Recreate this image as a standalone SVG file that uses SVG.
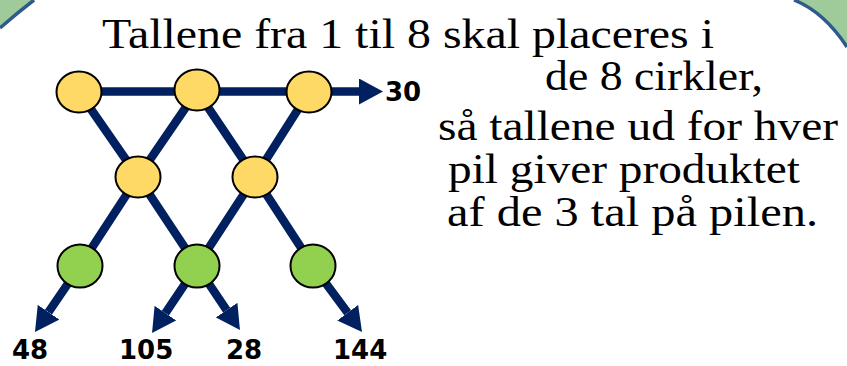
<svg xmlns="http://www.w3.org/2000/svg" width="847" height="366" viewBox="0 0 847 366">
<style>
.bg{fill:#ffffff}
.corner{fill:#9fcb9a}
.cornerEdge{fill:none;stroke:#2e5b8c;stroke-width:3.5}
.wire{fill:none;stroke:#002060;stroke-width:8.5;stroke-linejoin:miter}
.yel{fill:#ffd966;stroke:#000000;stroke-width:2}
.grn{fill:#92d050;stroke:#000000;stroke-width:2}
.num{font-family:"DejaVu Sans","Verdana",sans-serif;font-weight:bold;font-size:26px;fill:#000000}
.body{font-family:"Liberation Serif","Times New Roman",serif;font-size:42px;fill:#000000}
</style>
<defs>
<marker id="ah" markerUnits="userSpaceOnUse" viewBox="0 0 24 26" refX="0" refY="13" markerWidth="24" markerHeight="26" orient="auto">
<path d="M0,0 L24,13 L0,26 Z" fill="#002060"/>
</marker>
</defs>
<rect class="bg" x="0" y="0" width="847" height="366"/>
<g id="frame">
<path class="corner" d="M0,0 L34,0 Q17,13 0,28 Z"/>
<path class="cornerEdge" d="M34,0 Q17,13 0,28"/>
<path class="corner" d="M794,0 Q824,12 847,47 L847,0 Z"/>
<path class="cornerEdge" d="M794,0 Q824,12 847,47"/>
</g>
<g id="connectors">
<path class="wire" marker-end="url(#ah)" d="M79,91.5 L359,91.5"/>
<path class="wire" marker-end="url(#ah)" d="M79,92 L138,177 L197,266 L226.6,310.1"/>
<path class="wire" marker-end="url(#ah)" d="M197,91 L138,177 L80,266 L48.5,312.2"/>
<path class="wire" marker-end="url(#ah)" d="M197,91 L255,177 L313,266 L347.7,312.7"/>
<path class="wire" marker-end="url(#ah)" d="M309,92 L255,177 L197,266 L165.4,313.1"/>
</g>
<g id="n1"><ellipse class="yel" cx="79" cy="92" rx="22.5" ry="20.5"/></g>
<g id="n2"><ellipse class="yel" cx="197" cy="90" rx="22.5" ry="20.5"/></g>
<g id="n3"><ellipse class="yel" cx="309" cy="92" rx="22.5" ry="20.5"/></g>
<g id="n4"><ellipse class="yel" cx="138" cy="177" rx="22.5" ry="20.5"/></g>
<g id="n5"><ellipse class="yel" cx="255" cy="177" rx="22.5" ry="20.5"/></g>
<g id="n6"><ellipse class="grn" cx="80" cy="266" rx="22.5" ry="21.5"/></g>
<g id="n7"><ellipse class="grn" cx="197" cy="266" rx="22.5" ry="21.5"/></g>
<g id="n8"><ellipse class="grn" cx="313" cy="266" rx="22.5" ry="21.5"/></g>
<g id="labels">
<text class="num" x="385" y="100.5">30</text>
<text class="num" x="12" y="359">48</text>
<text class="num" x="119" y="359">105</text>
<text class="num" x="226" y="359">28</text>
<text class="num" x="333" y="359">144</text>
</g>
<g id="instructions">
<text class="body" x="102" y="47.5" textLength="612" lengthAdjust="spacingAndGlyphs">Tallene fra 1 til 8 skal placeres i</text>
<text class="body" x="545" y="90" textLength="218" lengthAdjust="spacingAndGlyphs">de 8 cirkler,</text>
<text class="body" x="438" y="140" textLength="400" lengthAdjust="spacingAndGlyphs">så tallene ud for hver</text>
<text class="body" x="448" y="183" textLength="352" lengthAdjust="spacingAndGlyphs">pil giver produktet</text>
<text class="body" x="447" y="226" textLength="371" lengthAdjust="spacingAndGlyphs">af de 3 tal på pilen.</text>
</g>
</svg>
